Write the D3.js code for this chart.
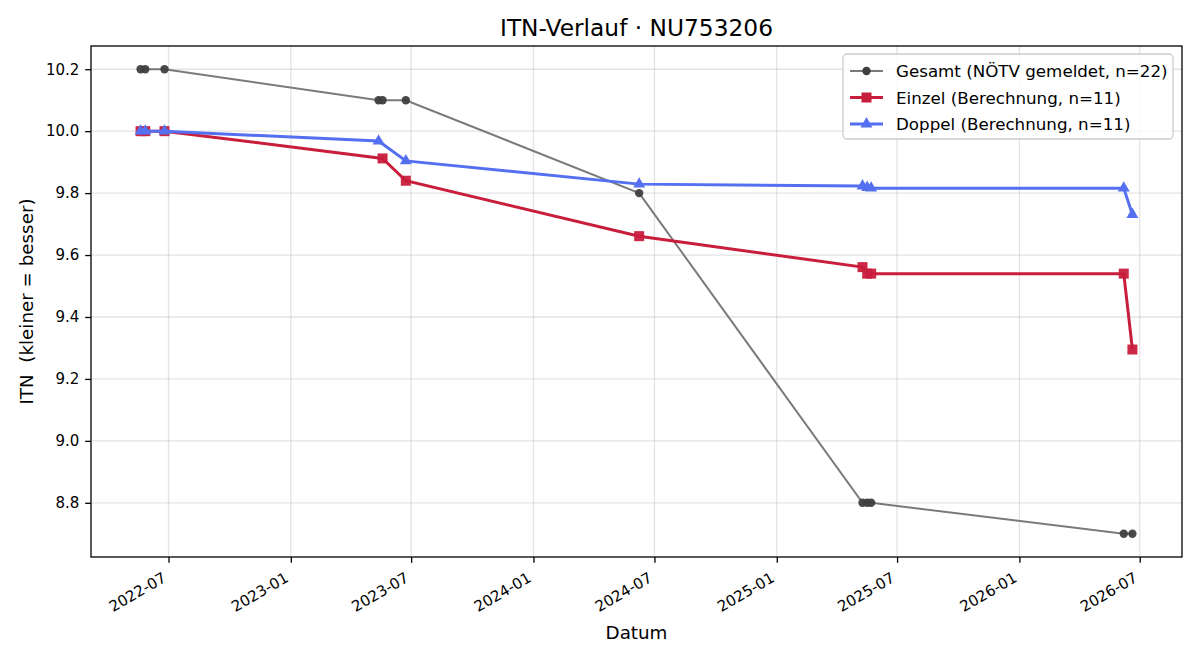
<!DOCTYPE html>
<html><head><meta charset="utf-8">
<script src="https://cdn.jsdelivr.net/npm/d3@7"></script>
<style>body{margin:0;background:#fff}svg text{font-family:"DejaVu Sans",sans-serif}</style>
</head><body><svg id="c" width="1200" height="660"></svg>
<script>
const gesamtDates = ["2022-05-20","2022-05-27","2022-06-25","2023-05-13","2023-05-19","2023-06-23","2024-06-08","2025-05-10","2025-05-17","2025-05-23","2026-06-07","2026-06-20"];
const gesamtValues = [10.2,10.2,10.2,10.1,10.1,10.1,9.8,8.8,8.8,8.8,8.7,8.7];
const einzelDates = ["2022-05-20","2022-05-27","2022-06-25","2023-05-19","2023-06-23","2024-06-08","2025-05-10","2025-05-17","2025-05-23","2026-06-07","2026-06-20"];
const einzelValues = [10.0,10.0,10.0,9.912,9.840,9.661,9.561,9.540,9.540,9.540,9.295];
const doppelDates = ["2022-05-20","2022-05-27","2022-06-25","2023-05-13","2023-06-23","2024-06-08","2025-05-10","2025-05-17","2025-05-23","2026-06-07","2026-06-20"];
const doppelValues = [10.0,10.0,10.0,9.968,9.904,9.829,9.823,9.818,9.816,9.816,9.731];
const yTicks = [8.8,9.0,9.2,9.4,9.6,9.8,10.0,10.2];
const xTickLabels = ["2022-07","2023-01","2023-07","2024-01","2024-07","2025-01","2025-07","2026-01","2026-07"];
const legendLabels = ["Gesamt (NÖTV gemeldet, n=22)","Einzel (Berechnung, n=11)","Doppel (Berechnung, n=11)"];

const parse = d3.utcParse("%Y-%m-%d");
const parseM = d3.utcParse("%Y-%m");
const mk = (ds, vs) => ds.map((d,i)=>({d:parse(d), v:vs[i]}));
const gesamt = mk(gesamtDates, gesamtValues), einzel = mk(einzelDates, einzelValues), doppel = mk(doppelDates, doppelValues);

const L=91, R=1182, T=46, B=557;
const svg = d3.select("#c");
const all = gesamt.concat(einzel, doppel);
const [dmin, dmax] = d3.extent(all, p=>+p.d);
const dpad = (dmax-dmin)*0.05;
const x = d3.scaleUtc().domain([new Date(dmin-dpad), new Date(+dmax+dpad)]).range([L,R]);
const [vmin, vmax] = d3.extent(all, p=>p.v);
const vpad = (vmax-vmin)*0.05;
const y = d3.scaleLinear().domain([vmin-vpad, vmax+vpad]).range([B,T]);

const xTicks = xTickLabels.map(parseM);
// grid
const g = svg.append("g");
g.selectAll(".gx").data(xTicks).join("line").attr("x1",d=>x(d)).attr("x2",d=>x(d)).attr("y1",T).attr("y2",B).attr("stroke","#b0b0b0").attr("stroke-opacity",0.35).attr("stroke-width",1.3);
g.selectAll(".gy").data(yTicks).join("line").attr("y1",d=>y(d)).attr("y2",d=>y(d)).attr("x1",L).attr("x2",R).attr("stroke","#b0b0b0").attr("stroke-opacity",0.35).attr("stroke-width",1.3);

// axes
const fs = 15;
const xAxis = d3.axisBottom(x).tickValues(xTicks).tickFormat(d3.utcFormat("%Y-%m")).tickSize(5.8).tickPadding(3);
const xa = svg.append("g").attr("transform",`translate(0,${B})`).call(xAxis);
xa.select(".domain").remove();
xa.selectAll("text").attr("font-size",fs).attr("fill","#000").attr("text-anchor","end")
  .attr("y",0).attr("x",0).attr("dy",(0.928*fs).toFixed(1))
  .attr("transform",`translate(${-0.5*1.164*fs},11.8) rotate(-30)`);
xa.selectAll("line").attr("stroke","#000").attr("stroke-width",1.3);
const yAxis = d3.axisLeft(y).tickValues(yTicks).tickFormat(d3.format(".1f")).tickSize(5.8).tickPadding(5.8);
const ya = svg.append("g").attr("transform",`translate(${L},0)`).call(yAxis);
ya.select(".domain").remove();
ya.selectAll("text").attr("font-size",fs).attr("fill","#000");
ya.selectAll("line").attr("stroke","#000").attr("stroke-width",1.3);

const line = d3.line().x(p=>x(p.d)).y(p=>y(p.v));
const plot = svg.append("g");
// Gesamt
plot.append("path").datum(gesamt).attr("d",line).attr("fill","none").attr("stroke","#7a7a7a").attr("stroke-width",2);
plot.selectAll(".gc").data(gesamt).join("circle").attr("cx",p=>x(p.d)).attr("cy",p=>y(p.v)).attr("r",4.2).attr("fill","#3f3f3f").attr("fill-opacity",0.95);
// Einzel
const red="#c81e3c", blue="#5470f0";
plot.append("path").datum(einzel).attr("d",line).attr("fill","none").attr("stroke",red).attr("stroke-width",3);
plot.selectAll(".ec").data(einzel).join("rect").attr("x",p=>x(p.d)-5).attr("y",p=>y(p.v)-5).attr("width",10).attr("height",10).attr("fill",red).attr("fill-opacity",0.95);
// Doppel
plot.append("path").datum(doppel).attr("d",line).attr("fill","none").attr("stroke",blue).attr("stroke-width",3);
const tri = d3.symbol().type(d3.symbolTriangle).size(62);
plot.selectAll(".dc").data(doppel).join("path").attr("d",tri).attr("transform",p=>`translate(${x(p.d)},${y(p.v)})`).attr("fill",blue);

// frame
svg.append("rect").attr("x",L).attr("y",T).attr("width",R-L).attr("height",B-T).attr("fill","none").attr("stroke","#000").attr("stroke-width",1.3);

// titles
svg.append("text").attr("x",(L+R)/2).attr("y",36).attr("text-anchor","middle").attr("font-size",23.3).text("ITN-Verlauf · NU753206");
svg.append("text").attr("x",(L+R)/2).attr("y",639).attr("text-anchor","middle").attr("font-size",18.3).text("Datum");
svg.append("text").attr("transform",`translate(33,${(T+B)/2}) rotate(-90)`).attr("text-anchor","middle").attr("font-size",18.3).text("ITN  (kleiner = besser)").style("white-space","pre");

// legend
const lg = svg.append("g").attr("transform","translate(843,54)");
lg.append("rect").attr("width",330).attr("height",85).attr("rx",4).attr("fill","#fff").attr("fill-opacity",0.8).attr("stroke","#cccccc").attr("stroke-width",1.3);
const specs=[{c:"#7a7a7a",m:"#3f3f3f",t:"c",w:2},{c:red,m:red,t:"s",w:3},{c:blue,m:blue,t:"t",w:3}];
specs.forEach((s,i)=>{
  const yy=17+i*26.5;
  lg.append("line").attr("x1",7).attr("x2",40).attr("y1",yy).attr("y2",yy).attr("stroke",s.c).attr("stroke-width",s.w);
  if(s.t==="c") lg.append("circle").attr("cx",23.5).attr("cy",yy).attr("r",4.2).attr("fill",s.m);
  else if(s.t==="s") lg.append("rect").attr("x",18.5).attr("y",yy-5).attr("width",10).attr("height",10).attr("fill",s.m);
  else lg.append("path").attr("d",tri).attr("transform",`translate(23.5,${yy})`).attr("fill",s.m);
  lg.append("text").attr("x",53).attr("y",yy+6).attr("font-size",16.7).text(legendLabels[i]);
});
</script></body></html>
